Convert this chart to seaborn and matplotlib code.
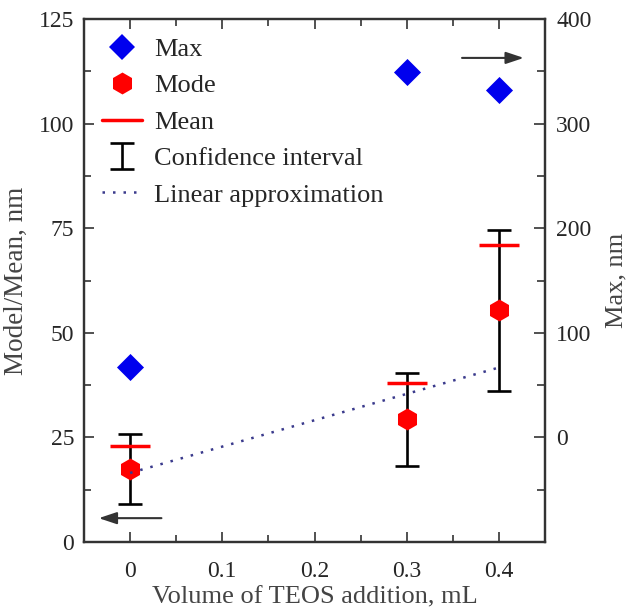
import matplotlib
matplotlib.use("Agg")
import matplotlib.pyplot as plt
from matplotlib.lines import Line2D
from matplotlib.ticker import MultipleLocator
import seaborn as sns
import pandas as pd

# ---- data ----
volume = [0.0, 0.3, 0.4]
max_nm = [67, 349, 332]          # right axis
mode_nm = [17.4, 29.4, 55.4]     # left axis
mean_nm = [22.9, 38.0, 71.0]
ci_low = [9.1, 18.2, 36.1]
ci_high = [25.8, 40.4, 74.6]
lin_x = [0.0, 0.4]
lin_y = [16.5, 41.7]
left_arrow = [0.037, -0.037, 5.7]     # x_from, x_to, y (left axis units)
right_arrow = [0.357, 0.430, 115.7]

x_ticks = [0, 0.1, 0.2, 0.3, 0.4]
x_ticklabels = ["0", "0.1", "0.2", "0.3", "0.4"]
right_ticks = [0, 100, 200, 300, 400]

sns.set_theme(style="ticks")
plt.rcParams["font.family"] = ["Liberation Serif", "DejaVu Serif"]
FS = 19
TFS = 17
LFS = 19
dark = "#333333"

fig = plt.figure(figsize=(6.37, 6.11), dpi=100)
ax = fig.add_axes([84 / 637, 69 / 611, 461 / 637, 523 / 611])
ax2 = ax.twinx()

df = pd.DataFrame(dict(v=volume, mx=max_nm, mo=mode_nm, me=mean_nm, lo=ci_low, hi=ci_high))
mid = [(a + b) / 2 for a, b in zip(ci_low, ci_high)]
err_lo = [m - a for m, a in zip(mid, ci_low)]
err_hi = [b - m for m, b in zip(mid, ci_high)]

eb = ax.errorbar(volume, mid, yerr=[err_lo, err_hi], fmt="none", ecolor="black",
                 elinewidth=1.9, capsize=8.6, capthick=1.9, zorder=2)
sns.scatterplot(data=df, x="v", y="mo", marker="h", s=250, color="red",
                linewidth=0, ax=ax, zorder=3, legend=False)
ax.plot(volume, mean_nm, linestyle="none", marker="_", ms=29.5, mew=2.5,
        color="red", zorder=4)
lin_df = pd.DataFrame(dict(x=lin_x, y=lin_y))
sns.lineplot(data=lin_df, x="x", y="y", ax=ax, color="#3a3a8c",
             linestyle=(0, (1, 3.2)), linewidth=1.8, zorder=5)

sns.scatterplot(data=df, x="v", y="mx", marker="D", s=190, color="#0000ee",
                linewidth=0, ax=ax2, zorder=3, legend=False)

# arrows
ax.annotate("", xy=(left_arrow[1], left_arrow[2]), xytext=(left_arrow[0], left_arrow[2]),
            arrowprops=dict(arrowstyle="-|>,head_length=0.9,head_width=0.3", color=dark, lw=1.5))
ax.annotate("", xy=(right_arrow[1], right_arrow[2]), xytext=(right_arrow[0], right_arrow[2]),
            arrowprops=dict(arrowstyle="-|>,head_length=0.9,head_width=0.3", color=dark, lw=1.5))

# axes
ax.set_xlim(-0.05, 0.45)
ax.set_ylim(0, 125)
ax2.set_ylim(-100, 400)
ax.set_xticks(x_ticks)
ax.set_xticklabels(x_ticklabels)
ax.xaxis.set_minor_locator(MultipleLocator(0.05))
ax.yaxis.set_major_locator(MultipleLocator(25))
ax.yaxis.set_minor_locator(MultipleLocator(12.5))
ax2.set_yticks(right_ticks)
ax2.set_yticks([-50, 50, 150, 250, 350], minor=True)

ax.tick_params(axis="x", which="both", direction="in", top=True, bottom=True,
               labelsize=TFS, pad=14, color=dark, width=1.2)
ax.tick_params(axis="y", which="both", direction="in", left=True, right=False,
               labelsize=TFS, pad=7, color=dark, width=1.2)
ax.tick_params(which="major", length=7)
ax.tick_params(which="minor", length=5)
ax2.tick_params(axis="y", which="both", direction="in", right=True, left=False,
                labelsize=TFS, pad=8, color=dark, width=1.2)
ax2.tick_params(which="major", length=8)
ax2.tick_params(which="minor", length=6)

for a in (ax, ax2):
    for s in a.spines.values():
        s.set_visible(True)
        s.set_linewidth(1.6)
        s.set_color(dark)

ax.set_xlabel("Volume of TEOS addition, mL", fontsize=FS, color="#444444")
ax.xaxis.set_label_coords(0.5, -0.085)
ax.set_ylabel("Model/Mean, nm", fontsize=FS + 0.5, color="#444444")
ax.yaxis.set_label_coords(-0.12, 0.5)
ax2.set_ylabel("Max, nm", fontsize=FS, color="#444444", labelpad=10)

handles = [
    Line2D([], [], linestyle="none", marker="D", ms=13.5, color="#0000ee", mew=0),
    Line2D([], [], linestyle="none", marker="h", ms=15.8, color="red", mew=0),
    Line2D([], [], color="red", lw=2.5),
    eb,
    Line2D([], [], color="#3a3a8c", linestyle=(0, (1, 3.2)), lw=1.8),
]
labels = ["Max", "Mode", "Mean", "Confidence interval", "Linear approximation"]
ax2.legend(handles, labels, loc="upper left", bbox_to_anchor=(0.0, 1.0), frameon=False,
           fontsize=LFS, handlelength=1.5, handletextpad=0.45, labelspacing=0.49,
           borderaxespad=0.3)

fig.savefig("out.png", dpi=100)
